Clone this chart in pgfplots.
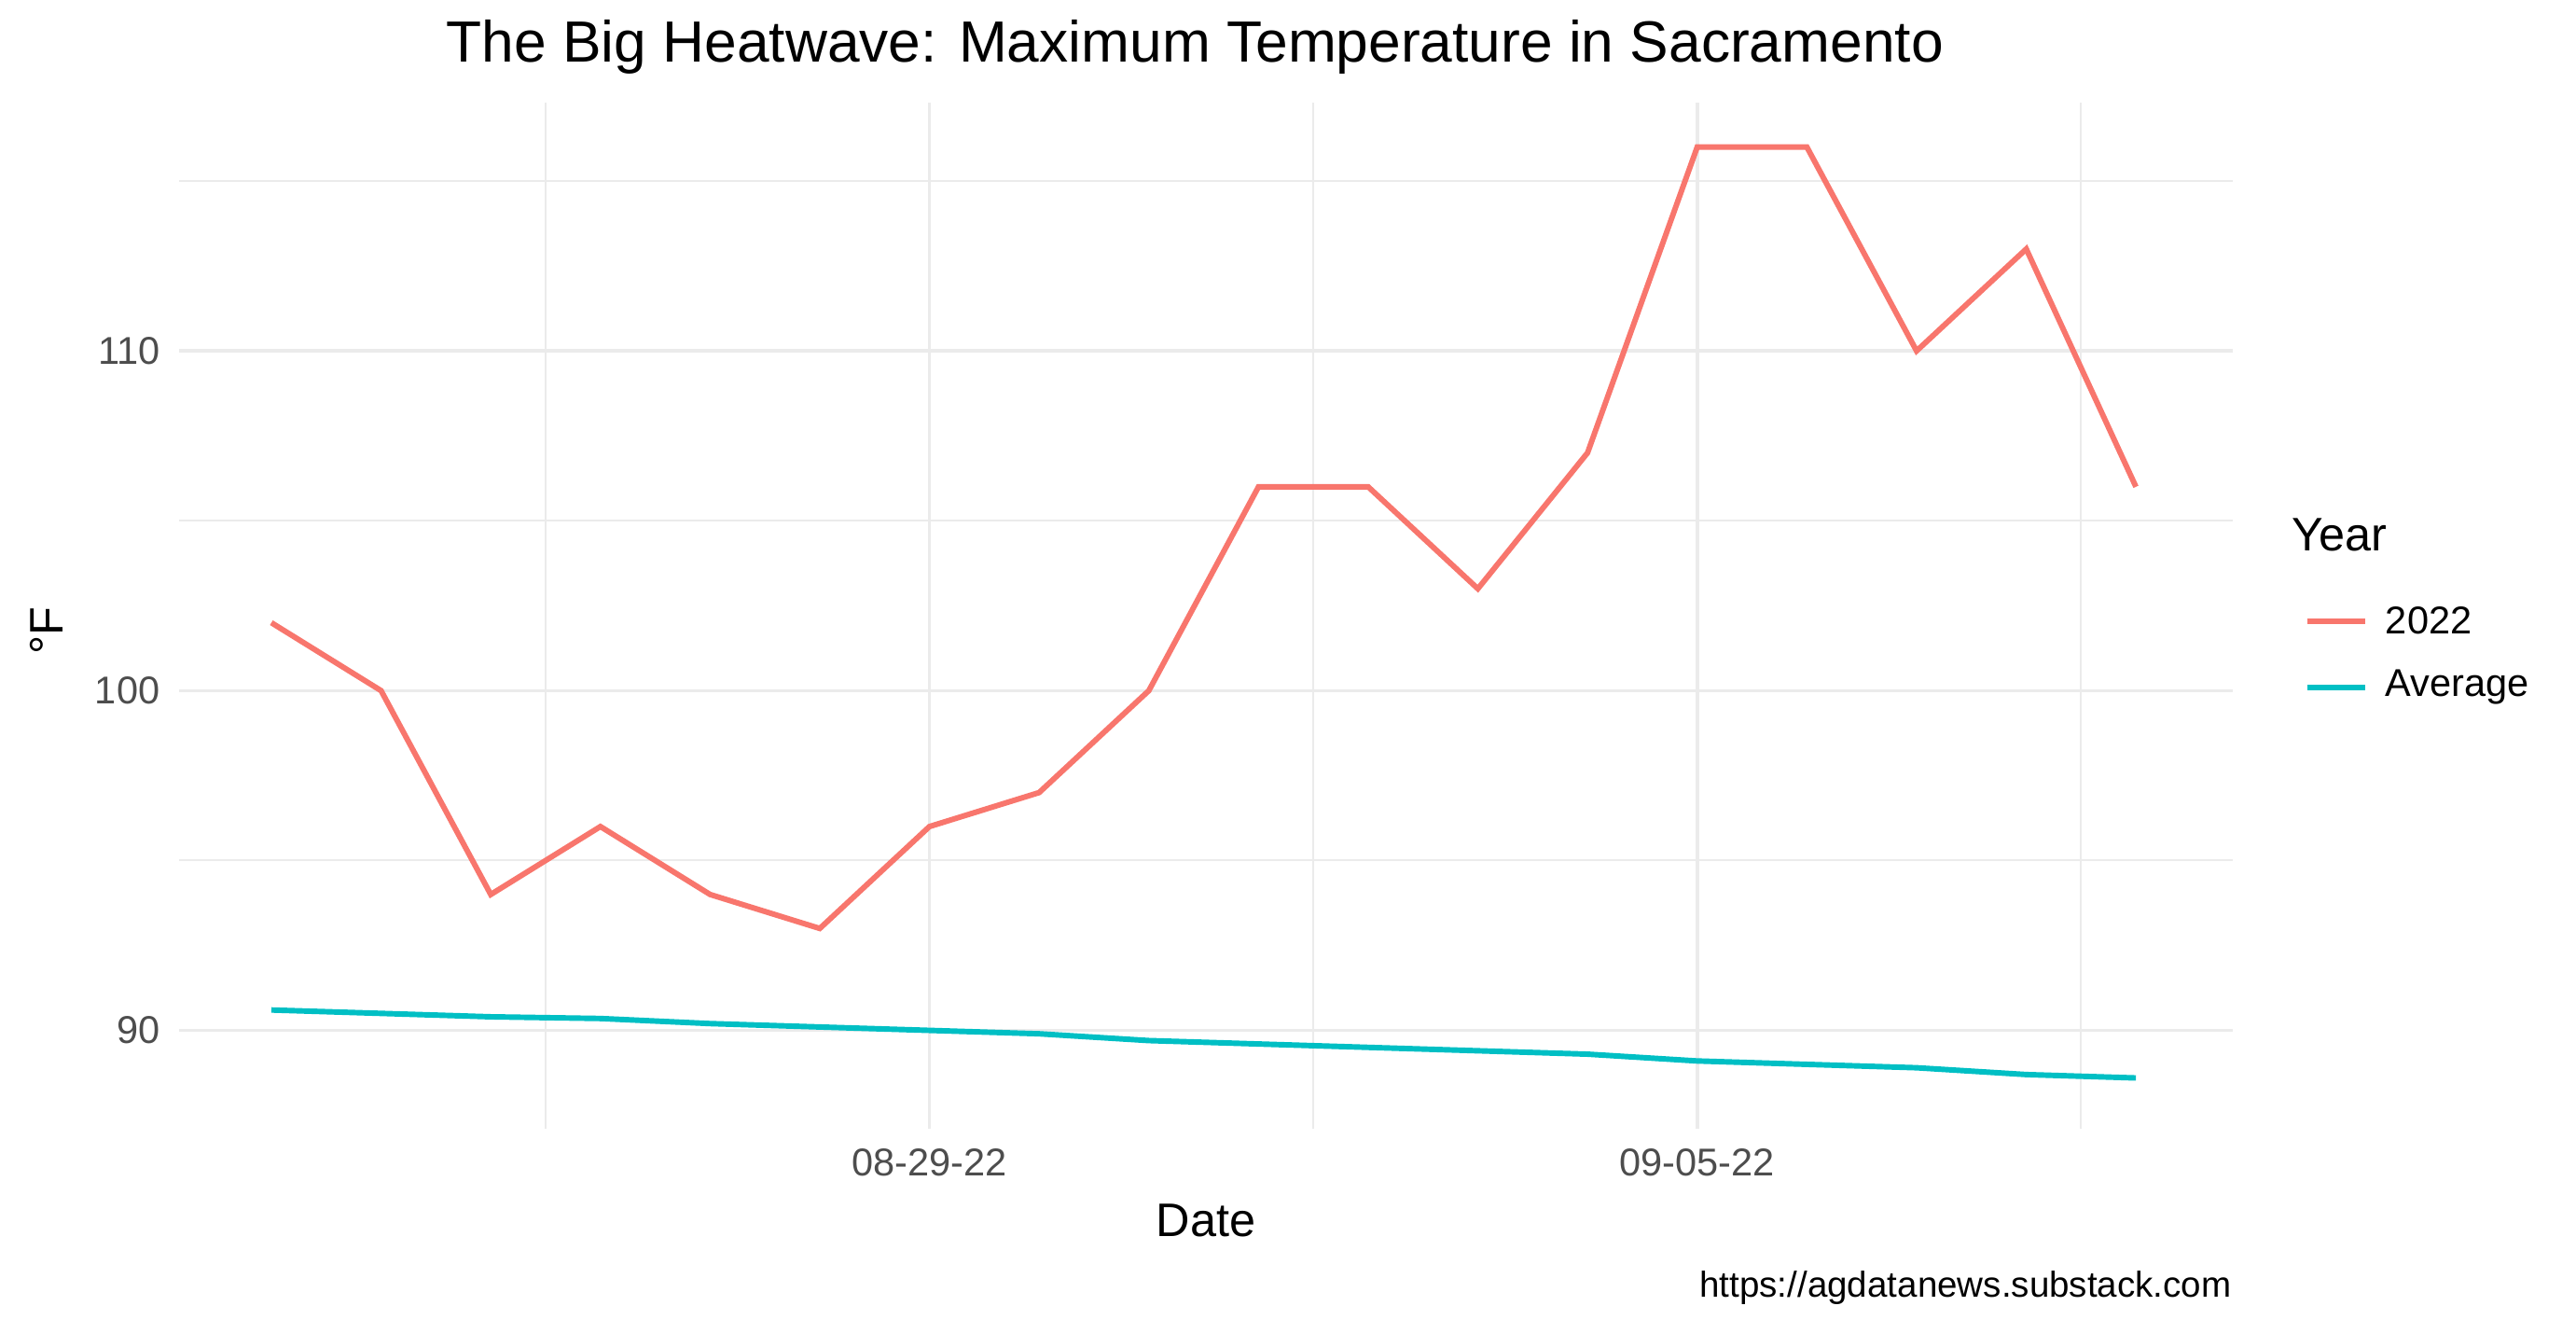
\documentclass[border=0pt]{standalone}
\usepackage{pgfplots}
\pgfplotsset{compat=1.18}
\usepackage{fontspec}
\setmainfont{Liberation Sans}
\definecolor{red22}{HTML}{F8766D}
\definecolor{cyanavg}{HTML}{00BFC4}
\definecolor{gridc}{HTML}{EBEBEB}
\definecolor{tickc}{HTML}{4D4D4D}
\begin{document}
\begin{tikzpicture}
\path (0,0) rectangle (465.6pt,238.5pt);
\begin{axis}[
  at={(32.4pt,34.5pt)}, anchor=south west, scale only axis,
  width=371.1pt, height=185.4pt,
  xmin=-6.84, xmax=11.88, ymin=87.1, ymax=117.3,
  axis line style={draw=none}, major tick length=0pt, minor tick length=0pt,
  xtick={0,7}, xticklabels={08-29-22,09-05-22},
  minor xtick={-3.5,3.5,10.5},
  ytick={90,100,110}, minor ytick={95,105,115},
  grid=both, major grid style={gridc, line width=0.6pt}, minor grid style={gridc, line width=0.35pt},
  tick label style={font=\fontsize{7}{8}\selectfont, text=tickc},
  /pgf/number format/assume math mode=true,
  clip=false,
]
\addplot[red22, line width=1pt] coordinates {
(-6,102)(-5,100)(-4,94)(-3,96)(-2,94)(-1,93)(0,96)(1,97)(2,100)(3,106)(4,106)(5,103)(6,107)(7,116)(8,116)(9,110)(10,113)(11,106)};
\addplot[cyanavg, line width=1pt] coordinates {
(-6,90.6)(-5,90.5)(-4,90.4)(-3,90.35)(-2,90.2)(-1,90.1)(0,90.0)(1,89.9)(2,89.7)(3,89.6)(4,89.5)(5,89.4)(6,89.3)(7,89.1)(8,89.0)(9,88.9)(10,88.7)(11,88.6)};
\end{axis}
\node at (216pt,230pt) {\fontsize{10.5}{12}\selectfont The Big Heatwave: Maximum Temperature in Sacramento};
\node at (218pt,18pt) {\fontsize{8.5}{10}\selectfont Date};
\node[rotate=90] at (8.4pt,124.5pt) {\fontsize{8.5}{10}\selectfont °F};
\node[anchor=south east, inner sep=0pt] at (403.5pt,2.5pt) {\fontsize{6.5}{8}\selectfont https://agdatanews.substack.com};
\node[anchor=west, inner sep=0pt] at (414pt,141.9pt) {\fontsize{8.5}{10}\selectfont Year};
\draw[red22, line width=1pt] (417pt,126.3pt) -- (427.5pt,126.3pt);
\draw[cyanavg, line width=1pt] (417pt,114.3pt) -- (427.5pt,114.3pt);
\node[anchor=west, inner sep=0pt] at (431pt,126.3pt) {\fontsize{7}{8}\selectfont 2022};
\node[anchor=west, inner sep=0pt] at (431pt,114.3pt) {\fontsize{7}{8}\selectfont Average};
\end{tikzpicture}
\end{document}
